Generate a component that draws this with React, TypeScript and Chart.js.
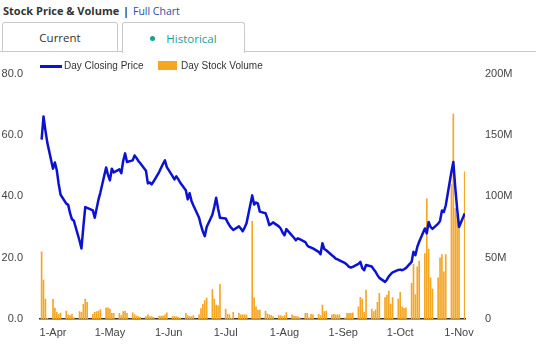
import React, { useEffect, useRef } from 'react';
import { Chart, registerables } from 'chart.js';

Chart.register(...registerables);

// ---- data (trading days, Mon-Fri) ----
const startDate = '2019-03-26';
const endDate = '2019-11-04';

// Day closing price, one value per trading day
const closePrice = [
  58.5, 66, 61.5, 57.5,
  49, 51, 48.5, 44, 40.5,
  37.6, 37.2, 34.5, 32.5, 32,
  25.5, 23, 30, 36.5, 36.2,
  35.4, 33, 36, 39, 41.3,
  49.4, 47, 45.2, 49, 47.8,
  48.8, 47.5, 51.5, 54, 51.2,
  51.7, 53.3, 52.5, 51.5, 50.8,
  48.3, 44.2, 44.5, 43.9, 44.8,
  48, 49.3, 50.6, 51.7, 49.5,
  46.6, 45.5, 46.5, 45.6, 44.5,
  42, 39, 41, 38.5, 37,
  33, 30.5, 28.5, 27, 30,
  34, 36.5, 39.5, 36, 33,
  32.8, 31.6, 30.5, 29.7, 29,
  30.2, 29.5, 28.6, 29.8, 31.2,
  40.3, 37.3, 38, 37.6, 35,
  34.5, 32.8, 30.6, 31, 31.5,
  30.2, 29.5, 28.2, 27.3, 29.3,
  27.2, 26.5, 25.7, 26.3, 26,
  25.1, 24, 23.5, 23.3, 23,
  21.9, 21.1, 24.7, 22.8, 22.4,
  20.8, 20.3, 19.7, 19.4, 19.1,
  18.2, 17.7, 17, 16.8, 17,
  18, 18.6, 16.6, 15.9, 17.6,
  17.1, 16.2, 15.4, 14.3, 13.4,
  12.1, 12.8, 13.9, 14.6, 15.2,
  16, 16.1, 15.9, 16.2, 16.6,
  18.6, 21.9, 20.8, 23.5, 25.2,
  29.5, 27.9, 31.6, 30, 29.4,
  31.1, 32, 35.4, 34.9, 37,
  48, 51.2, 43, 36, 30,
  34.4,
];

// Day stock volume, millions of shares
const volumeM = [
  54.7, 31.7, 16.3, 0.6,
  16, 9, 5.4, 3.8, 4.9,
  6.5, 3.3, 2.7, 3.8, 1.2,
  6, 5.4, 11.9, 16.3, 13.5,
  3.8, 5.4, 6, 6.5, 7.6,
  9.2, 9.2, 8.1, 4.6, 4.6,
  4.6, 2.7, 6, 6.5, 4.6,
  5.1, 3.3, 2.4, 1.9, 1.4,
  1.9, 3.3, 1.9, 1.9, 1.4,
  2.4, 2.4, 2.4, 3.3, 5.1,
  1.9, 1.9, 1.9, 1.4, 0.8,
  4.6, 2.7, 1.9, 1.9, 2.7,
  3.3, 8.5, 12, 15, 17,
  24, 16.3, 11.4, 10.8, 28.2,
  8.1, 3.8, 3.3, 0.8, 5.4,
  4.6, 3.3, 3.3, 3.3, 3.3,
  79.7, 17.3, 10, 7.3, 7.3,
  6.5, 4.3, 3.5, 2.7, 1.9,
  2.7, 2.7, 1.9, 2.7, 5.2,
  3.3, 2.4, 1.9, 1.9, 1.0,
  4.6, 4.6, 1.0, 3.8, 3.3,
  3.8, 2.7, 11.4, 6, 6.5,
  3.3, 3.8, 3.3, 3.3, 3.3,
  1.0, 4.6, 4.6, 4.6, 5.1,
  10, 17.6, 16.3, 5.4, 23.6,
  8.1, 6, 7.5, 13.6, 20.9,
  17.5, 19.5, 22.8, 12.2, 17.5,
  16.3, 21.7, 10, 8.7, 9.2,
  29, 44.5, 20, 42.5, 47.2,
  53.4, 98, 56.9, 33.6, 24.4,
  33.6, 49.8, 52.6, 38.5, 52.6,
  109.5, 167, 90, 85, 80,
  120,
];

const monthTickDates = [
  '2019-04-01', '2019-05-01', '2019-06-01', '2019-07-01',
  '2019-08-01', '2019-09-01', '2019-10-01', '2019-11-01',
];
const monthTickLabels = ['1-Apr', '1-May', '1-Jun', '1-Jul', '1-Aug', '1-Sep', '1-Oct', '1-Nov'];

const priceAxisMax = 80;
const priceAxisStep = 20;
const volumeAxisMax = 200;
const volumeAxisStep = 50;

// ---- helpers ----
const DAY = 86400000;
const REF = Date.UTC(2019, 3, 1);
function toUTC(iso: string) {
  const [y, m, d] = iso.split('-').map(Number);
  return Date.UTC(y, m - 1, d);
}
function dayOffset(iso: string) {
  return Math.round((toUTC(iso) - REF) / DAY);
}
function tradingDays(start: string, end: string) {
  const out: number[] = [];
  for (let t = toUTC(start); t <= toUTC(end); t += DAY) {
    const wd = new Date(t).getUTCDay();
    if (wd !== 0 && wd !== 6) out.push(Math.round((t - REF) / DAY));
  }
  return out;
}

const LINE_COLOR = '#0b12d0';
const BAR_COLOR = '#f5a623';
const TEAL = '#1b9e97';
const FONT = '"Liberation Sans", Arial, sans-serif';

export default function App() {
  const canvasRef = useRef<HTMLCanvasElement | null>(null);

  useEffect(() => {
    const xs = tradingDays(startDate, endDate);
    const tickDays = monthTickDates.map(dayOffset);
    const labelFor = (v: number) => {
      const i = tickDays.indexOf(Math.round(v));
      return i >= 0 ? monthTickLabels[i] : '';
    };
    Chart.defaults.font.family = FONT;
    const chart = new Chart(canvasRef.current as HTMLCanvasElement, {
      type: 'bar',
      data: {
        datasets: [
          {
            type: 'line',
            label: 'Day Closing Price',
            data: xs.map((x, i) => ({ x, y: closePrice[i] })),
            borderColor: LINE_COLOR,
            backgroundColor: LINE_COLOR,
            borderWidth: 2.5,
            borderJoinStyle: 'round',
            pointRadius: 0,
            tension: 0,
            yAxisID: 'y',
            order: 0,
          } as any,
          {
            type: 'bar',
            label: 'Day Stock Volume',
            data: xs.map((x, i) => ({ x, y: volumeM[i] })),
            backgroundColor: BAR_COLOR,
            barThickness: 1,
            yAxisID: 'y1',
            order: 1,
          } as any,
        ],
      },
      options: {
        responsive: false,
        animation: false,
        layout: { padding: { top: 18, left: 0, right: 0, bottom: 0 } },
        plugins: { legend: { display: false }, tooltip: { enabled: false } },
        scales: {
          x: {
            type: 'linear',
            min: -6.85,
            max: 217.15,
            offset: false,
            grid: { display: false },
            border: { display: true, color: '#333', width: 1.5 },
            afterBuildTicks: (s: any) => {
              s.ticks = tickDays.map((v) => ({ value: v }));
            },
            afterFit: (s: any) => {
              s.height = 32;
            },
            ticks: {
              autoSkip: false,
              maxRotation: 0,
              padding: -1,
              color: '#444',
              font: { size: 11, family: FONT },
              callback: (v: any) => labelFor(Number(v)),
            },
          },
          y: {
            position: 'left',
            min: 0,
            max: priceAxisMax,
            grid: { display: false },
            border: { display: false },
            afterFit: (s: any) => {
              s.width = 40;
            },
            ticks: {
              stepSize: priceAxisStep,
              padding: 9,
              color: '#444',
              font: { size: 11, family: FONT },
              callback: (v: any) => Number(v).toFixed(1),
            },
          },
          y1: {
            position: 'right',
            min: 0,
            max: volumeAxisMax,
            grid: { display: false },
            border: { display: false },
            afterFit: (s: any) => {
              s.width = 71;
            },
            ticks: {
              stepSize: volumeAxisStep,
              padding: 12,
              color: '#444',
              font: { size: 11, family: FONT },
              callback: (v: any) => (Number(v) === 0 ? '0' : v + 'M'),
            },
          },
        },
      } as any,
    });
    return () => chart.destroy();
  }, []);

  const tabBase: React.CSSProperties = {
    position: 'absolute',
    top: 22,
    height: 30,
    boxSizing: 'border-box',
    border: '1px solid #c9c9c9',
    borderRadius: '3px 3px 0 0',
    background: '#fff',
    display: 'flex',
    alignItems: 'center',
    justifyContent: 'center',
    fontFamily: '"Open Sans", sans-serif',
    fontSize: 11.5,
  };

  return (
    <div
      style={{
        position: 'absolute',
        left: 0,
        top: 0,
        width: 536,
        height: 351,
        background: '#fff',
        overflow: 'hidden',
      }}
    >
      <div
        style={{
          position: 'absolute',
          left: 3,
          top: 3,
          fontFamily: '"Open Sans", sans-serif',
          fontSize: 11,
          lineHeight: '16px',
          fontWeight: 700,
          color: '#333',
          whiteSpace: 'nowrap',
        }}
      >
        Stock Price &amp; Volume <span style={{ margin: '0 1px' }}>|</span>{' '}
        <span style={{ color: '#1f4fa3', fontWeight: 400, fontSize: 10.5 }}>Full Chart</span>
      </div>
      <div
        style={{
          position: 'absolute',
          left: 0,
          top: 51,
          width: 536,
          height: 1,
          background: '#c9c9c9',
        }}
      />
      <div style={{ ...tabBase, left: 2, width: 116, color: '#333' }}>Current</div>
      <div
        style={{
          ...tabBase,
          left: 122,
          width: 123,
          height: 31,
          borderBottom: 'none',
          color: TEAL,
        }}
      >
        <span
          style={{
            display: 'inline-block',
            width: 5,
            height: 5,
            borderRadius: '50%',
            background: TEAL,
            marginRight: 11,
          }}
        />
        Historical
      </div>

      <div
        style={{
          position: 'absolute',
          left: 0,
          top: 55,
          width: 536,
          height: 296,
        }}
      >
        <canvas ref={canvasRef} width={536} height={296} style={{ display: 'block' }} />
      </div>

      {/* legend */}
      <div
        style={{
          position: 'absolute',
          left: 40,
          top: 65,
          width: 22,
          height: 2.5,
          background: LINE_COLOR,
        }}
      />
      <div
        style={{
          position: 'absolute',
          left: 64,
          top: 60,
          fontFamily: FONT,
          fontSize: 10,
          lineHeight: '12px',
          color: '#333',
          whiteSpace: 'nowrap',
        }}
      >
        Day Closing Price
      </div>
      <div
        style={{
          position: 'absolute',
          left: 158,
          top: 61,
          width: 19,
          height: 9,
          background: BAR_COLOR,
        }}
      />
      <div
        style={{
          position: 'absolute',
          left: 181,
          top: 60,
          fontFamily: FONT,
          fontSize: 10,
          lineHeight: '12px',
          color: '#333',
          whiteSpace: 'nowrap',
        }}
      >
        Day Stock Volume
      </div>
    </div>
  );
}
